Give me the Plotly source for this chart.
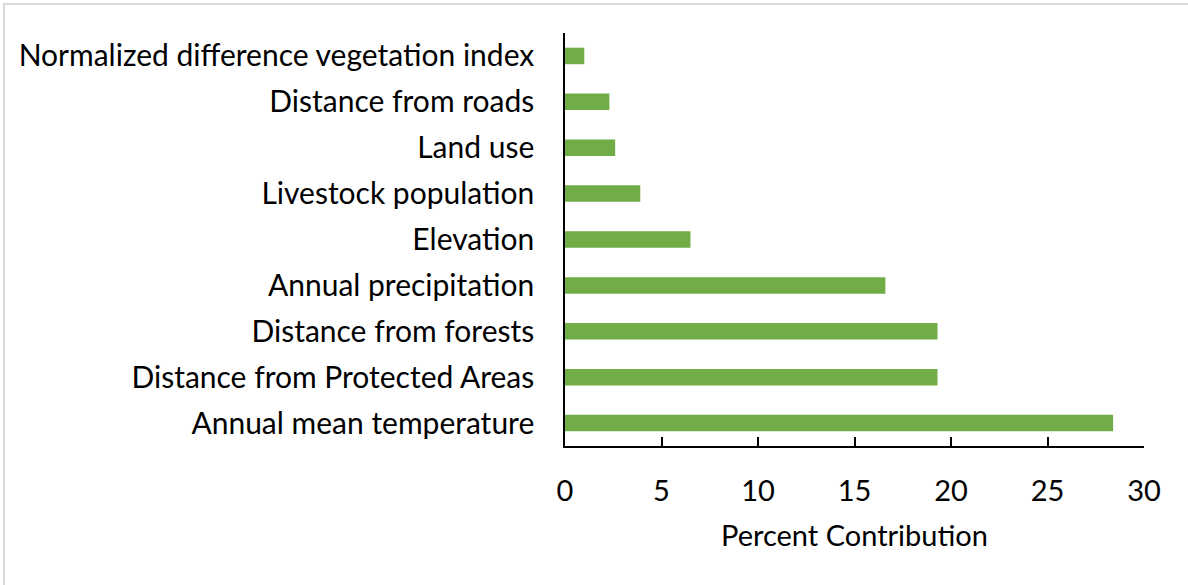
import plotly.graph_objects as go

categories = [
    "Annual mean temperature",
    "Distance from Protected Areas",
    "Distance from forests",
    "Annual precipitation",
    "Elevation",
    "Livestock population",
    "Land use",
    "Distance from roads",
    "Normalized difference vegetation index",
]
values = [28.4, 19.3, 19.3, 16.6, 6.5, 3.9, 2.6, 2.3, 1.0]
x_ticks = [0, 5, 10, 15, 20, 25, 30]

FONT = "Lato"
FS = 30
W, H = 1188, 585
L, R, T, B = 565, 44, 33, 139

fig = go.Figure(go.Bar(
    x=values, y=categories, orientation="h",
    marker=dict(color="#70AD47", line=dict(width=0)),
))

fig.update_layout(
    width=W, height=H,
    margin=dict(l=L, r=R, t=T, b=B),
    paper_bgcolor="white", plot_bgcolor="white",
    bargap=0.64,
    showlegend=False,
    font=dict(family=FONT, size=FS, color="black"),
)
fig.update_xaxes(
    range=[0, 30], tickvals=x_ticks,
    showgrid=False, zeroline=False,
    showline=True, linecolor="black", linewidth=1.5,
    ticks="inside", ticklen=9, tickcolor="black", tickwidth=1.5,
    ticklabelstandoff=18,
    tickfont=dict(family=FONT, size=FS - 1),
    title=dict(text="Percent Contribution", font=dict(family=FONT, size=FS - 1), standoff=20),
)
fig.update_yaxes(
    categoryorder="array", categoryarray=categories,
    showgrid=False, zeroline=False,
    showline=True, linecolor="black", linewidth=1.5,
    ticks="", ticklabelstandoff=23,
    tickfont=dict(family=FONT, size=FS),
)
pw, ph = W - L - R, H - T - B
fig.add_shape(
    type="rect", xref="paper", yref="paper",
    x0=(4 - L) / pw, x1=(W + 10 - L) / pw,
    y0=-(H + 10 - T - ph) / ph, y1=1 + (T - 4) / ph,
    line=dict(color="#D9D9D9", width=2), layer="below",
)
fig.write_html(
    "out.html",
    config={"displayModeBar": False},
    post_script="document.body.style.margin='0';",
)
